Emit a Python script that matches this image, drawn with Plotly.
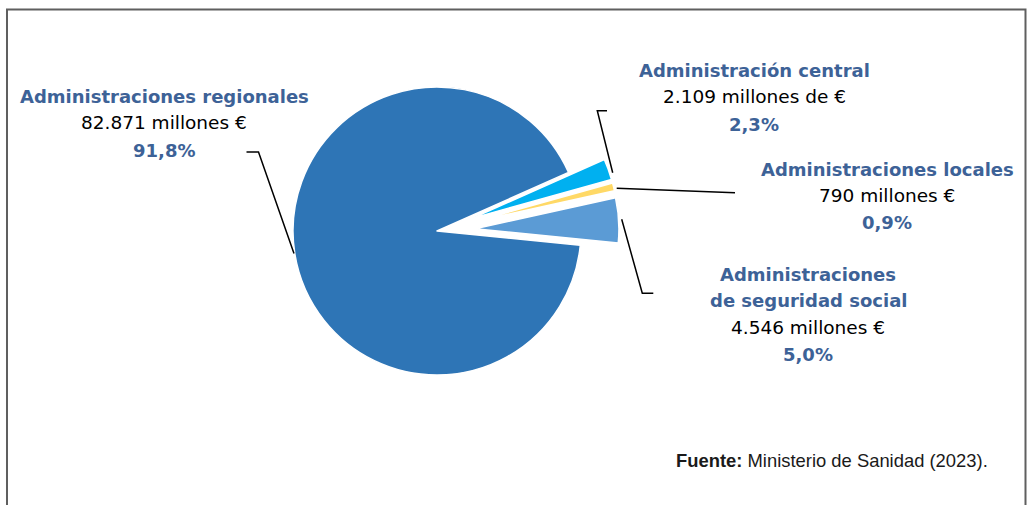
import plotly.graph_objects as go

W, H = 1028, 505

# Data (clockwise order starting at the gap)
categories = ["Administración central", "Administraciones locales",
              "Administraciones de seguridad social", "Administraciones regionales"]
values = [2109, 790, 4546, 82871]
value_labels = ["2.109 millones de €", "790 millones €", "4.546 millones €", "82.871 millones €"]
pct_labels = ["2,3%", "0,9%", "5,0%", "91,8%"]
title_lines = [["Administración central"], ["Administraciones locales"],
               ["Administraciones", "de seguridad social"], ["Administraciones regionales"]]
colors = ["#00B0F0", "#FFD966", "#5B9BD5", "#2E75B6"]
pulls = [0.264, 0.264, 0.264, 0]
source_bold = "Fuente:"
source_text = " Ministerio de Sanidad (2023)."

TXT_BLUE = "#3D6297"
FONT_B = "DejaVu Sans"


def px(x):
    return x / W


def py(y):
    return 1 - y / H


# pie geometry (center 437,231; radius 144; pull 0.264)
cx, cy, r, pmax = 437, 231, 144, 0.264
half = r * (1 + pmax)
dom_x = [px(cx - half), px(cx + half)]
dom_y = [py(cy + half), py(cy - half)]

fig = go.Figure(go.Pie(
    labels=categories, values=values, sort=False, direction="clockwise",
    rotation=66, pull=pulls, textinfo="none", hoverinfo="label+value+percent",
    marker=dict(colors=colors, line=dict(color="white", width=1.5)),
    domain=dict(x=dom_x, y=dom_y), showlegend=False,
))

annotations = []


def add_text(x, y, text, bold=False, color="black", size=18, xanchor="center", family=FONT_B):
    annotations.append(dict(
        x=px(x), y=py(y), xref="paper", yref="paper", text=("<b>%s</b>" % text) if bold else text,
        showarrow=False, xanchor=xanchor, yanchor="middle",
        font=dict(family=family, size=size, color=color)))


# label blocks: (x center, [y of each title line], y value, y pct)
label_pos = [
    (754, [70], 97, 124),
    (887, [169], 195.5, 222.5),
    (808, [274, 300.5], 327, 354),
    (164, [97], 122.5, 150.5),
]
for i, (x, tys, vy, pyy) in enumerate(label_pos):
    for t, ty in zip(title_lines[i], tys):
        add_text(x, ty, t, bold=True, color=TXT_BLUE)
    add_text(x, vy, value_labels[i], size=18.5)
    add_text(x, pyy, pct_labels[i], bold=True, color=TXT_BLUE)

annotations.append(dict(
    x=px(674), y=py(460), xref="paper", yref="paper",
    text="<b>%s</b>%s" % (source_bold, source_text), showarrow=False,
    xanchor="left", yanchor="middle",
    font=dict(family="Liberation Sans", size=18.4, color="#1a1a1a")))

shapes = []


def path(points, color="black", width=1.5):
    d = "M " + " L ".join("%f,%f" % (px(a), py(b)) for a, b in points)
    shapes.append(dict(type="path", path=d, xref="paper", yref="paper",
                       line=dict(color=color, width=width)))


# leader lines
path([(246.5, 152), (258.5, 152), (294, 253.5)])
path([(607, 110.7), (597.3, 110.7), (612.7, 172.7)])
path([(616.7, 188.3), (735, 192.7)])
path([(621.7, 219.3), (642.3, 293.3), (653.3, 293.3)])

# frame
path([(7, 505), (7, 9.5), (1025.5, 9.5), (1025.5, 505)], color="#5f5f5f", width=2)

fig.update_layout(
    width=W, height=H, margin=dict(l=0, r=0, t=0, b=0),
    paper_bgcolor="white", plot_bgcolor="white",
    annotations=annotations, shapes=shapes,
)

fig.write_html("out.html")
